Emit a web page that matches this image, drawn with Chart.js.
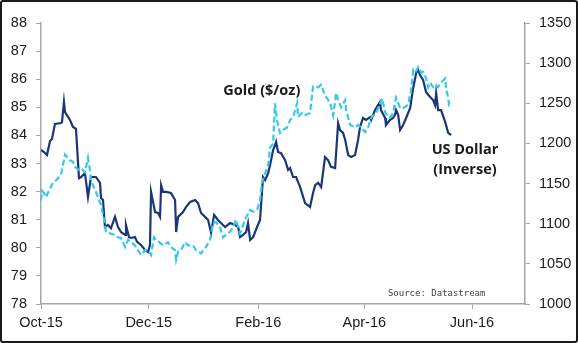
<!DOCTYPE html>
<html>
<head>
<meta charset="utf-8">
<script src="https://cdn.jsdelivr.net/npm/chart.js@4/dist/chart.umd.min.js"></script>
<style>
  html, body { margin: 0; padding: 0; background: #fff; }
  #frame {
    width: 578px; height: 343px; box-sizing: border-box;
    border: 2px solid #1a1a1a; border-radius: 3px; overflow: hidden;
  }
  canvas { display: block; }
</style>
</head>
<body>
<div id="frame"><canvas id="chart" width="574" height="339"></canvas></div>
<script>
// x positions are days counted from 1 Oct 2015
const monthTicks = [0, 61, 123, 183, 244];
const monthLabels = ['Oct-15', 'Dec-15', 'Feb-16', 'Apr-16', 'Jun-16'];

// US Dollar (inverse), left axis
const usdDays = [0, 1.7, 3.4, 5.1, 6.2, 7.9, 11.3, 11.9, 13, 13.6, 16.4, 18.1, 19.8, 21.5, 22.7, 24.9,
  26.6, 28.3, 31.1, 33.4, 34, 35.1, 36.2, 37.9, 39.6, 41.9, 43.6, 45.3, 47.6, 48.1, 49.8, 51, 53.2,
  54.4, 56.6, 58.9, 60.6, 61.7, 62.3, 64.6, 66.3, 67.4, 68, 69.1, 70.8, 73.6, 75.9, 76.5, 77.6, 80.4,
  82.1, 84.4, 87.2, 88.9, 90.6, 92.9, 94.6, 96.3, 98, 100.2, 101.9, 104.2, 107, 109.9, 111.6, 112.7,
  114.4, 116.1, 117.2, 118.4, 120.1, 122.3, 124, 125.7, 126.9, 128.6, 129.7, 131.4, 132.5, 133.1,
  134.2, 135.9, 138.2, 139.9, 141, 142.7, 144.4, 146.7, 149.5, 152.3, 154, 155.2, 156.9, 158.6, 160.8,
  162.5, 164.2, 166.5, 168.2, 169.3, 171, 172.2, 173.9, 175.6, 177.8, 179.5, 180.6, 182.3, 184, 186.3,
  186.9, 189.1, 191.9, 192.5, 194.8, 195.3, 197.6, 199.3, 200.4, 201, 202.2, 203.3, 205, 206.7, 209,
  210.7, 212.4, 213.5, 214.6, 216.3, 218, 220.3, 222, 223.1, 223.7, 224.8, 226.5, 228.8, 230.5, 232.2];
const usdValues = [83.48, 83.41, 83.30, 83.80, 83.87, 84.41, 84.44, 84.48, 85.19, 84.83, 84.55, 84.30,
  84.23, 82.48, 82.52, 82.66, 81.81, 82.52, 82.52, 82.31, 81.77, 81.70, 80.74, 80.81, 80.70, 81.10,
  80.74, 80.56, 80.46, 80.81, 80.38, 80.35, 80.38, 80.21, 80.10, 79.92, 79.85, 80.10, 81.99, 81.27,
  81.24, 81.10, 82.23, 81.99, 81.99, 81.95, 81.70, 80.56, 81.10, 81.27, 81.45, 81.63, 81.70, 81.59,
  81.24, 81.10, 80.99, 80.53, 81.17, 80.99, 80.88, 80.74, 80.88, 80.81, 80.74, 80.38, 80.46, 80.56,
  80.88, 80.28, 80.38, 80.74, 80.99, 82.52, 82.41, 82.66, 82.95, 83.48, 83.66, 83.77, 83.41, 83.37,
  83.12, 82.77, 82.84, 82.52, 82.52, 82.16, 81.59, 81.45, 81.95, 82.23, 82.31, 82.16, 83.23, 83.12,
  82.88, 82.84, 84.44, 84.19, 84.09, 83.84, 83.30, 83.23, 83.30, 83.84, 84.30, 84.62, 84.55, 84.65,
  84.55, 84.90, 85.19, 84.90, 84.62, 84.37, 84.55, 84.62, 84.73, 84.90, 84.73, 84.19, 84.37, 84.62,
  84.98, 85.69, 86.22, 86.33, 86.15, 85.97, 85.54, 85.37, 85.26, 85.08, 85.51, 84.90, 84.90, 84.48,
  84.09, 84.01];

// Gold ($/oz), right axis
const goldDays = [0, 0.6, 1.7, 2.8, 5.1, 6.8, 8.5, 11.3, 13.6, 16.4, 18.1, 19.3, 21, 22.7, 24.9, 26.6,
  27.7, 28.3, 30.6, 32.3, 34, 35.7, 36.8, 39.1, 41.9, 43.6, 45.3, 47.6, 49.3, 51, 53.2, 54.9, 56.6,
  58.9, 60.6, 62.3, 64, 65.1, 67.4, 69.1, 71.9, 73.6, 75.9, 76.5, 77.6, 79.3, 81.5, 83.2, 86.1, 87.8,
  90.6, 93.4, 95.7, 97.4, 99.1, 101.4, 103.1, 104.8, 107, 108.7, 110.4, 112.7, 114.4, 116.1, 118.4,
  120.1, 122.3, 124, 125.1, 126.9, 128.6, 129.7, 131.4, 132.5, 133.6, 135.3, 137, 139.3, 141, 142.7,
  145, 145.5, 147.8, 149.5, 152.3, 154, 156.9, 158.6, 159.7, 161.4, 163.7, 165.4, 167.1, 168.2, 169.9,
  172.2, 172.7, 175, 177.8, 179.5, 181.2, 183.5, 185.2, 186.9, 189.7, 192, 193.1, 194.8, 196.5, 197.6,
  199.3, 201, 203.3, 205, 207.8, 209.5, 210.7, 211.8, 213.5, 215.2, 216.3, 218, 219.2, 220.3, 222,
  223.1, 224.8, 226.5, 228.8, 229.3, 230.5, 231, 232.2];
const goldValues = [1129, 1141, 1138, 1133, 1144, 1151, 1154, 1161, 1186, 1179, 1177, 1171, 1167, 1169,
  1164, 1182, 1167, 1154, 1142, 1133, 1123, 1105, 1090, 1088, 1086, 1083, 1082, 1071, 1080, 1077, 1073,
  1067, 1061, 1067, 1067, 1061, 1083, 1080, 1076, 1073, 1077, 1071, 1067, 1055, 1065, 1067, 1077, 1073,
  1073, 1067, 1063, 1071, 1080, 1101, 1102, 1095, 1083, 1086, 1090, 1095, 1105, 1088, 1098, 1108, 1117,
  1115, 1117, 1129, 1151, 1163, 1173, 1195, 1200, 1250, 1229, 1213, 1217, 1220, 1229, 1233, 1250, 1233,
  1238, 1235, 1238, 1271, 1270, 1273, 1266, 1258, 1250, 1235, 1263, 1254, 1245, 1254, 1242, 1223, 1220,
  1223, 1220, 1214, 1220, 1232, 1238, 1250, 1256, 1239, 1233, 1232, 1238, 1257, 1244, 1244, 1248, 1266,
  1291, 1288, 1295, 1288, 1289, 1281, 1270, 1276, 1270, 1273, 1270, 1276, 1281, 1269, 1257, 1248, 1250];

const AXIS_GREY = '#a6a6a6';
const TEXT = '#1a1a1a';

const labelsPlugin = {
  id: 'labels',
  afterDatasetsDraw(chart) {
    const { ctx } = chart;
    const x = chart.scales.x, y = chart.scales.y;
    ctx.save();
    ctx.fillStyle = TEXT;
    ctx.textAlign = 'center';
    ctx.textBaseline = 'middle';
    ctx.font = 'bold 14.5px "Open Sans", sans-serif';
    ctx.fillText('Gold ($/oz)', x.getPixelForValue(125), y.getPixelForValue(85.6));
    ctx.fillText('US Dollar', x.getPixelForValue(240), y.getPixelForValue(83.48));
    ctx.fillText('(Inverse)', x.getPixelForValue(240), y.getPixelForValue(82.77));
    ctx.font = '9px "DejaVu Sans Mono", monospace';
    ctx.fillStyle = '#404040';
    ctx.fillText('Source: Datastream', x.getPixelForValue(224), y.getPixelForValue(78.36));
    ctx.restore();
  }
};

const tickFont = { family: '"Liberation Sans", Arial, sans-serif', size: 14.5 };

new Chart(document.getElementById('chart'), {
  type: 'line',
  data: {
    datasets: [{
      label: 'Gold ($/oz)',
      data: goldDays.map((d, i) => ({ x: d, y: goldValues[i] })),
      yAxisID: 'y2',
      borderColor: 'rgb(52, 200, 238)',
      borderWidth: 2.2,
      borderDash: [6, 3],
      pointRadius: 0,
      tension: 0
    }, {
      label: 'US Dollar (Inverse)',
      data: usdDays.map((d, i) => ({ x: d, y: usdValues[i] })),
      yAxisID: 'y',
      borderColor: 'rgb(25, 55, 120)',
      borderWidth: 2.2,
      pointRadius: 0,
      tension: 0
    }]
  },
  options: {
    responsive: false,
    animation: false,
    layout: { padding: { top: 21, left: 0, right: 0, bottom: 0 } },
    plugins: { legend: { display: false }, tooltip: { enabled: false } },
    scales: {
      x: {
        type: 'linear',
        min: 0,
        max: 274,
        afterBuildTicks(s) { s.ticks = monthTicks.map(v => ({ value: v })); },
        afterFit(s) { s.height = 37; },
        ticks: {
          autoSkip: false,
          maxRotation: 0,
          padding: 5,
          color: TEXT,
          font: tickFont,
          callback: v => monthLabels[monthTicks.indexOf(v)]
        },
        grid: { drawOnChartArea: false, tickLength: 5, color: AXIS_GREY },
        border: { color: AXIS_GREY, width: 1.5 }
      },
      y: {
        position: 'left',
        min: 78,
        max: 88,
        afterFit(s) { s.width = 39; },
        ticks: { stepSize: 1, padding: 9, color: TEXT, font: tickFont, callback: v => String(v) },
        grid: { drawOnChartArea: false, tickLength: 5, color: AXIS_GREY },
        border: { color: AXIS_GREY, width: 1.5 }
      },
      y2: {
        position: 'right',
        min: 1000,
        max: 1350,
        afterFit(s) { s.width = 51; },
        ticks: { stepSize: 50, padding: 9, color: TEXT, font: tickFont, callback: v => String(v) },
        grid: { drawOnChartArea: false, tickLength: 5, color: AXIS_GREY },
        border: { color: AXIS_GREY, width: 1.5 }
      }
    }
  },
  plugins: [labelsPlugin]
});
</script>
</body>
</html>
